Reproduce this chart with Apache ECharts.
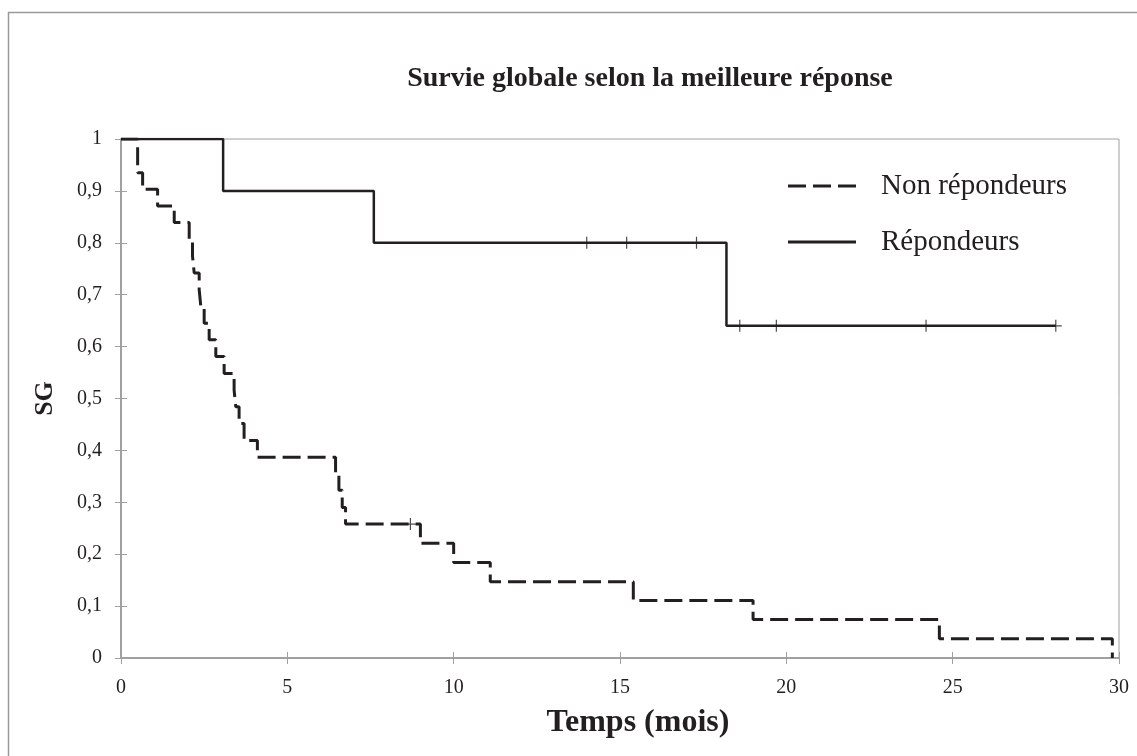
<!DOCTYPE html>
<html>
<head>
<meta charset="utf-8">
<title>Survie globale selon la meilleure réponse</title>
<script src="https://cdn.jsdelivr.net/npm/echarts@6/dist/echarts.min.js"></script>
<style>
  html, body { margin: 0; padding: 0; background: #fff; }
  #main { width: 1137px; height: 756px; }
</style>
</head>
<body>
<div id="main"></div>
<script>
// courbes de Kaplan-Meier (temps en mois, survie)
var nonRepTimes = [0, 0.5, 0.65, 1.1, 1.6, 2.05, 2.15, 2.2, 2.35, 2.4, 2.5, 2.65, 2.85, 3.1, 3.4, 3.45, 3.55, 3.7, 4.1, 6.45, 6.55, 6.65, 6.75, 9.0, 10.0, 11.1, 15.4, 19.0, 24.6, 29.8];
var nonRepSurv = [1, 0.935, 0.903, 0.871, 0.839, 0.806, 0.774, 0.742, 0.710, 0.677, 0.645, 0.613, 0.581, 0.548, 0.516, 0.484, 0.452, 0.419, 0.387, 0.355, 0.323, 0.290, 0.258, 0.221, 0.184, 0.147, 0.111, 0.074, 0.037, 0];
var nonRepCensTimes = [8.7];
var nonRepCensSurv = [0.258];

var repTimes = [0, 3.07, 7.6, 18.2, 28.1];
var repSurv = [1, 0.9, 0.8, 0.64, 0.64];
var repCensTimes = [14.0, 15.2, 17.3, 18.6, 19.7, 24.2, 28.1];
var repCensSurv = [0.8, 0.8, 0.8, 0.64, 0.64, 0.64, 0.64];

var xTicks = [0, 5, 10, 15, 20, 25, 30];
var yTickLabels = ['0', '0,1', '0,2', '0,3', '0,4', '0,5', '0,6', '0,7', '0,8', '0,9', '1'];

function zip(a, b) {
  return a.map(function (v, i) { return [v, b[i]]; });
}

var serif = '"Liberation Serif", "Times New Roman", serif';
var ink = '#231f20';
var axisGrey = '#a0a0a0';
var plus = 'path://M0,5L10,5M5,0L5,10';
// icones de légende : trait pointillé / trait plein
var dashIcon = 'path://M0,0h18v3h-18z M25,0h18v3h-18z M50,0h18v3h-18z';
var solidIcon = 'path://M0,0h68v3h-68z';

var myChart = echarts.init(document.getElementById('main'));

var option = {
  animation: false,
  backgroundColor: '#fff',
  textStyle: { fontFamily: serif },
  graphic: [{
    type: 'rect',
    shape: { x: 8.5, y: 12.5, width: 1200, height: 800 },
    style: { fill: 'none', stroke: '#9a9a9a', lineWidth: 1.5 },
    silent: true
  }],
  title: {
    text: 'Survie globale selon la meilleure réponse',
    left: 645,
    textAlign: 'center',
    top: 60,
    textStyle: { fontFamily: serif, fontSize: 28, fontWeight: 'bold', color: ink }
  },
  legend: {
    orient: 'vertical',
    left: 788,
    top: 171,
    padding: 0,
    itemWidth: 68,
    itemHeight: 3,
    itemGap: 26,
    symbolKeepAspect: false,
    data: [
      { name: 'Non répondeurs', icon: dashIcon },
      { name: 'Répondeurs', icon: solidIcon }
    ],
    itemStyle: { color: ink, borderWidth: 0 },
    textStyle: { fontFamily: serif, fontSize: 29, lineHeight: 30, color: ink, padding: [0, 0, 0, 20] }
  },
  grid: {
    left: 121, right: 18, top: 139, bottom: 98,
    show: true, borderColor: axisGrey, borderWidth: 1
  },
  xAxis: [{
    type: 'value',
    min: 0, max: 30, interval: 5,
    name: 'Temps (mois)',
    nameLocation: 'middle',
    nameGap: 49,
    nameTextStyle: { fontFamily: serif, fontSize: 32, fontWeight: 'bold', color: ink, padding: [0, 0, 0, 36] },
    axisLine: { show: true, lineStyle: { color: axisGrey, width: 2 } },
    axisTick: { show: true, length: 6, lineStyle: { color: axisGrey, width: 1 } },
    axisLabel: {
      margin: 20, fontFamily: serif, fontSize: 20, color: ink,
      formatter: function (v) { return xTicks.indexOf(v) >= 0 ? String(v) : ''; }
    },
    splitLine: { show: false }
  }, {
    type: 'value',
    min: 0, max: 30, interval: 5,
    position: 'bottom',
    axisLine: { show: false },
    axisTick: { show: true, inside: true, length: 6, lineStyle: { color: axisGrey, width: 1 } },
    axisLabel: { show: false },
    splitLine: { show: false }
  }],
  yAxis: [{
    type: 'value',
    min: 0, max: 1, interval: 0.1,
    name: 'SG',
    nameLocation: 'middle',
    nameGap: 63,
    nameTextStyle: { fontFamily: serif, fontSize: 26, fontWeight: 'bold', color: ink },
    axisLine: { show: true, lineStyle: { color: axisGrey, width: 2 } },
    axisTick: { show: true, length: 6, lineStyle: { color: axisGrey, width: 1 } },
    axisLabel: {
      margin: 19, fontFamily: serif, fontSize: 20, color: ink,
      formatter: function (v) { return yTickLabels[Math.round(v * 10)]; }
    },
    splitLine: { show: false }
  }, {
    type: 'value',
    min: 0, max: 1, interval: 0.1,
    position: 'left',
    axisLine: { show: false },
    axisTick: { show: true, inside: true, length: 6, lineStyle: { color: axisGrey, width: 1 } },
    axisLabel: { show: false },
    splitLine: { show: false }
  }],
  series: [{
    name: 'Non répondeurs',
    type: 'line',
    step: 'end',
    symbol: 'none',
    data: zip(nonRepTimes, nonRepSurv),
    lineStyle: { color: ink, width: 3, type: [18, 7] },
    itemStyle: { color: ink },
    z: 3
  }, {
    name: 'Répondeurs',
    type: 'line',
    step: 'end',
    symbol: 'none',
    data: zip(repTimes, repSurv),
    lineStyle: { color: ink, width: 2.5 },
    itemStyle: { color: ink },
    z: 4
  }, {
    name: 'censures NR',
    type: 'scatter',
    symbol: plus,
    symbolSize: 12,
    data: zip(nonRepCensTimes, nonRepCensSurv),
    itemStyle: { color: 'none', borderColor: ink, borderWidth: 1.2 },
    z: 5
  }, {
    name: 'censures R',
    type: 'scatter',
    symbol: plus,
    symbolSize: 12,
    data: zip(repCensTimes, repCensSurv),
    itemStyle: { color: 'none', borderColor: ink, borderWidth: 1.2 },
    z: 5
  }]
};

myChart.setOption(option);
</script>
</body>
</html>
